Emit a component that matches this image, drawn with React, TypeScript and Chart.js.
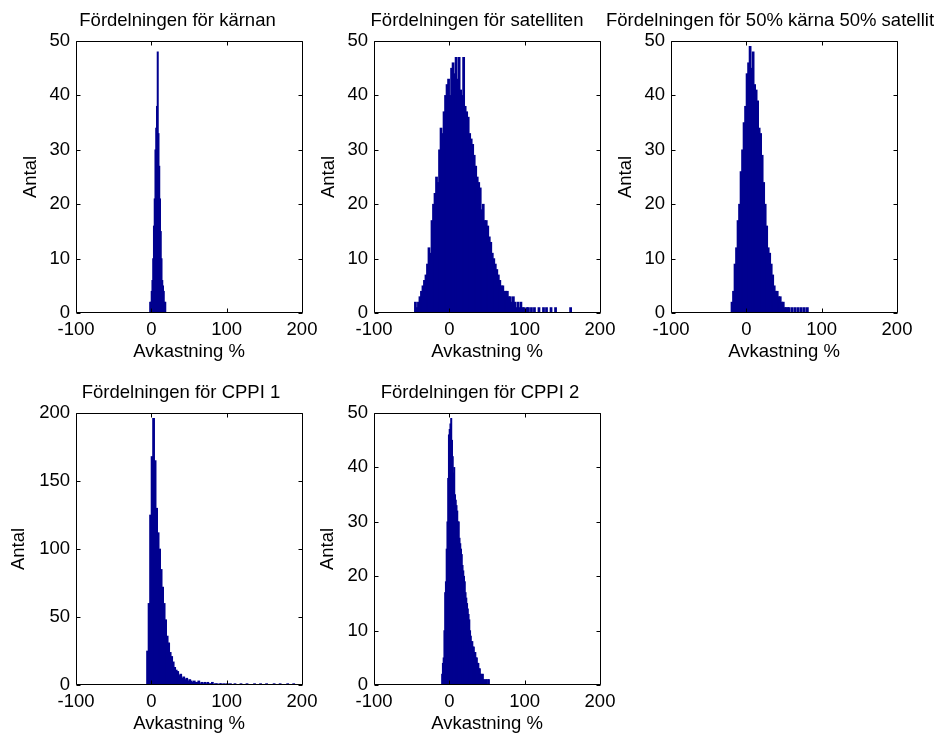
import React, { useEffect, useRef } from 'react';
import { Chart, registerables } from 'chart.js';

Chart.register(...registerables);

const FONT = "'Liberation Sans', Arial, Helvetica, sans-serif";

// ---------- data ----------
const xTickValues = [-100, 0, 100, 200];

// Fördelningen för kärnan (bins of 1 unit, starting at -2)
const coreStart = -2;
const coreBin = 1;
const coreCounts = [2, 2, 4, 6, 10, 16, 21, 30, 34, 38, 48, 33, 27, 21, 15, 10, 6, 5, 4, 2, 2];

// Fördelningen för satelliten (bins of 2 units, starting at -46)
const satStart = -46;
const satBin = 2;
const satCounts = [
  2, 1, 2, 3, 4, 5, 6, 7, 9, 12,
  11, 17, 20, 22, 25, 24, 30, 34, 33, 37,
  40, 42, 43, 40, 45, 46, 44, 47, 43, 47,
  41, 40, 47, 38, 37, 36, 33, 32, 31, 29,
  27, 25, 24, 23, 19, 20, 17, 17, 16, 14,
  13, 11, 10, 9, 8, 7, 6, 5, 5, 4,
  4, 4, 3, 3, 2, 3, 2, 1, 2, 1,
  2, 1, 1, 0, 1, 1, 0, 1, 0, 1,
  0, 0, 1, 0, 0, 1, 0, 1, 0, 0,
  1, 0, 0, 1, 0, 0, 0, 0, 0, 0,
  0, 0, 0, 1,
];

// Fördelningen för 50% kärna 50% satellit (bins of 2 units, starting at -20)
const mixStart = -20;
const mixBin = 2;
const mixCounts = [
  2, 4, 9, 12, 17, 20, 26, 30, 35, 38,
  44, 46, 49, 45, 48, 42, 41, 39, 34, 33,
  29, 24, 20, 16, 12, 11, 9, 7, 5, 4,
  4, 3, 3, 2, 2, 1, 1, 1, 1, 0,
  1, 0, 1, 0, 1, 0, 1, 0, 1, 0,
  1,
];

// Fördelningen för CPPI 1 (bins of 2 units, starting at -6)
const cppi1Start = -6;
const cppi1Bin = 2;
const cppi1Counts = [
  25, 60, 125, 168, 196, 165, 130, 112, 100, 85,
  72, 60, 48, 36, 31, 24, 21, 17, 13, 11,
  10, 7, 8, 5, 6, 4, 5, 3, 4, 3,
  2, 3, 2, 2, 3, 1, 2, 1, 2, 1,
  2, 1, 1, 2, 0, 1, 1, 0, 1, 1,
  0, 1, 0, 1, 0, 1, 0, 0, 1, 0,
  0, 0, 1, 0, 0, 0, 1, 0, 0, 0,
  0, 1, 0, 0, 0, 1, 0, 0, 0, 1,
  0, 0, 0, 0, 1, 0, 0, 0, 1, 0,
  0, 0, 0, 1, 0, 0, 0, 1,
];

// Fördelningen för CPPI 2 (bins of 1 unit, starting at -10)
const cppi2Start = -10;
const cppi2Bin = 1;
const cppi2Counts = [
  2, 4, 5, 10, 17, 19, 25, 30, 38, 46,
  47, 48, 49, 45, 42, 39, 40, 35, 34, 33,
  32, 30, 30, 27, 26, 25, 24, 22, 21, 20,
  19, 17, 16, 15, 14, 13, 12, 10, 9, 8,
  8, 7, 7, 6, 6, 5, 5, 4, 4, 3,
  3, 2, 2, 1, 2, 1, 1, 0, 1, 1,
  0, 1, 1, 0,
];

// ---------- layout ----------
const Y_AXIS_W = 76; // from canvas left edge to plot box
const PLOT_W = 226;
const TITLE_H = 41;
const PLOT_H = 272;
const X_AXIS_H = 55;
const CANVAS_H = TITLE_H + PLOT_H + X_AXIS_H;
const PX_PER_UNIT = PLOT_W / 300;
const FONT_SIZE = 18.5;

const boxPlugin = {
  id: 'matlabBox',
  afterDatasetsDraw(chart: any) {
    const { ctx, chartArea, scales } = chart;
    const L = Math.round(chartArea.left) + 0.5;
    const R = Math.round(chartArea.right) + 0.5;
    const T = Math.round(chartArea.top) + 0.5;
    const B = Math.round(chartArea.bottom) - 0.5;
    const tl = 4;
    ctx.save();
    ctx.strokeStyle = '#000';
    ctx.lineWidth = 1;
    ctx.beginPath();
    ctx.rect(L, T, R - L, B - T);
    for (const t of scales.x.ticks) {
      const px = Math.round(scales.x.getPixelForValue(t.value)) + 0.5;
      ctx.moveTo(px, B);
      ctx.lineTo(px, B - tl);
      ctx.moveTo(px, T);
      ctx.lineTo(px, T + tl);
    }
    for (const t of scales.y.ticks) {
      const py = Math.round(scales.y.getPixelForValue(t.value)) + 0.5;
      ctx.moveTo(L, py);
      ctx.lineTo(L + tl, py);
      ctx.moveTo(R, py);
      ctx.lineTo(R - tl, py);
    }
    ctx.stroke();
    ctx.restore();
  },
};

type HistProps = {
  title: string;
  plotLeft: number; // page x of the plot box
  top: number;
  titleCenter: number; // page x of the title centre
  yLabelCenter: number; // page x of the "Antal" label centre
  yMax: number;
  yStep: number;
  start: number;
  bin: number;
  counts: number[];
};

function Histogram(p: HistProps) {
  const ref = useRef<HTMLCanvasElement>(null);
  const canvasLeft = p.plotLeft - Y_AXIS_W;
  const plotRight = Y_AXIS_W + PLOT_W;
  const extra = 2 * (p.titleCenter - canvasLeft) - plotRight; // empty right-hand axis space
  const canvasW = plotRight + extra;
  useEffect(() => {
    const data = p.counts.map((c, i) => ({ x: p.start + (i + 0.5) * p.bin, y: c }));
    const font = { family: FONT, size: FONT_SIZE, weight: 'normal' as const };
    const lineH = FONT_SIZE * 1.2;
    const yTitlePad = p.yLabelCenter - canvasLeft - lineH / 2;
    const titleTop = 10;
    const chart = new Chart(ref.current as HTMLCanvasElement, {
      type: 'bar',
      data: {
        datasets: [
          {
            data: data as any,
            backgroundColor: '#00008F',
            borderWidth: 0,
            barThickness: p.bin * PX_PER_UNIT + 0.6,
            categoryPercentage: 1,
            barPercentage: 1,
          },
        ],
      },
      options: {
        animation: false,
        responsive: false,
        devicePixelRatio: 1,
        layout: { padding: 0 },
        plugins: {
          legend: { display: false },
          tooltip: { enabled: false },
          title: {
            display: true,
            text: p.title,
            color: '#000',
            font,
            padding: { top: titleTop, bottom: TITLE_H - lineH - titleTop },
          },
        },
        scales: {
          x: {
            type: 'linear',
            min: -100,
            max: 200,
            offset: false,
            grid: { display: false, drawTicks: false, offset: false },
            border: { display: false },
            afterBuildTicks: (s: any) => {
              s.ticks = xTickValues.map((v) => ({ value: v }));
            },
            ticks: { autoSkip: false, maxRotation: 0, padding: 6, color: '#000', font },
            title: { display: true, text: 'Avkastning %', color: '#000', font, padding: { top: 0, bottom: 5 } },
            afterFit: (s: any) => {
              s.height = X_AXIS_H;
            },
          },
          y: {
            type: 'linear',
            min: 0,
            max: p.yMax,
            grid: { display: false, drawTicks: false },
            border: { display: false },
            ticks: { stepSize: p.yStep, autoSkip: false, padding: 6, color: '#000', font },
            title: { display: true, text: 'Antal', color: '#000', font, padding: { top: yTitlePad, bottom: 0 } },
            afterFit: (s: any) => {
              s.width = Y_AXIS_W;
            },
          },
          yRight: {
            type: 'linear',
            position: 'right',
            min: 0,
            max: p.yMax,
            grid: { display: false, drawTicks: false },
            border: { display: false },
            ticks: { display: false },
            afterFit: (s: any) => {
              s.width = extra;
            },
          },
        },
      } as any,
      plugins: [boxPlugin],
    });
    return () => chart.destroy();
  }, []);
  return (
    <canvas
      ref={ref}
      width={canvasW}
      height={CANVAS_H}
      style={{ position: 'absolute', left: canvasLeft, top: p.top, width: canvasW, height: CANVAS_H }}
    />
  );
}

export default function App() {
  return (
    <div
      style={{
        position: 'absolute',
        left: 0,
        top: 0,
        width: 940,
        height: 736,
        overflow: 'hidden',
        background: '#fff',
      }}
    >
      <Histogram title="Fördelningen för kärnan" plotLeft={76} top={0} titleCenter={177.5} yLabelCenter={31} yMax={50} yStep={10} start={coreStart} bin={coreBin} counts={coreCounts} />
      <Histogram title="Fördelningen för satelliten" plotLeft={374} top={0} titleCenter={477} yLabelCenter={329} yMax={50} yStep={10} start={satStart} bin={satBin} counts={satCounts} />
      <Histogram title="Fördelningen för 50% kärna 50% satellit" plotLeft={671} top={0} titleCenter={770} yLabelCenter={626} yMax={50} yStep={10} start={mixStart} bin={mixBin} counts={mixCounts} />
      <Histogram title="Fördelningen för CPPI 1" plotLeft={76} top={372} titleCenter={181} yLabelCenter={19} yMax={200} yStep={50} start={cppi1Start} bin={cppi1Bin} counts={cppi1Counts} />
      <Histogram title="Fördelningen för CPPI 2" plotLeft={374} top={372} titleCenter={480} yLabelCenter={328} yMax={50} yStep={10} start={cppi2Start} bin={cppi2Bin} counts={cppi2Counts} />
    </div>
  );
}
